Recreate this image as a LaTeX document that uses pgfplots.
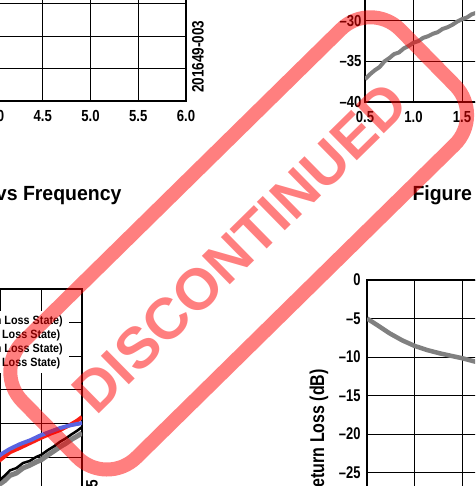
\documentclass[border=0pt]{standalone}
\usepackage{fontspec}
\setmainfont{Liberation Sans}
\newfontfamily\tickA{Liberation Sans}[FakeStretch=0.82]
\newfontfamily\tickD{Liberation Sans}[FakeStretch=0.76]
\newfontfamily\titlef{Liberation Sans}[FakeStretch=0.95]
\newfontfamily\labf{Liberation Sans}[FakeStretch=0.8]
\newfontfamily\legf{Liberation Sans}[FakeStretch=0.9]
\newfontfamily\stampf{Liberation Sans}
\usepackage{pgfplots}
\pgfplotsset{compat=1.18}
\definecolor{cgray}{RGB}{128,128,128}
\definecolor{cred}{RGB}{250,30,20}
\definecolor{cblue}{RGB}{90,100,225}
\definecolor{stampred}{RGB}{255,0,0}
\pgfplotsset{
  dsaxis/.style={
    scale only axis,
    axis line style={line width=2pt},
    grid=major,
    major grid style={line width=0.9pt, black},
    major tick length=0pt,
    /pgf/number format/assume math mode=true,
    xtick={0.5,1,1.5,2,2.5,3,3.5,4,4.5,5,5.5,6},
    xticklabels={0.5,1.0,1.5,2.0,2.5,3.0,3.5,4.0,4.5,5.0,5.5,6.0},
    xmin=0.5, xmax=6,
  }
}
\begin{document}
\begin{tikzpicture}
\begin{scope}
\clip (0pt,0pt) rectangle (475pt,486pt);
% ---------- Axis A (top left) ----------
\begin{axis}[dsaxis, at={(186pt,385pt)}, anchor=south east,
  width=525pt, height=259.2pt, ymin=0, ymax=8, ytick={0,1,...,8},
  yticklabels={},
  tick label style={font=\tickA\bfseries\fontsize{16}{18}\selectfont},
  xticklabel style={yshift=-6pt}]
\addplot[draw=none] coordinates {(0.5,0) (6,0)};
\end{axis}
\node[rotate=90, anchor=west, inner sep=0pt, font=\tickA\bfseries\fontsize{16.5}{18}\selectfont] at (198pt,393pt) {201649-003};
% ---------- Axis B (top right) ----------
\begin{axis}[dsaxis, at={(365pt,384pt)}, anchor=south west,
  width=533.5pt, height=324.8pt, ymin=-40, ymax=0,
  ytick={-40,-35,-30,-25,-20,-15,-10,-5,0},
  yticklabels={–40,–35,–30,–25,–20,–15,–10,–5,0},
  tick label style={font=\tickA\bfseries\fontsize{16}{18}\selectfont},
  xticklabel style={yshift=-6pt}]
\addplot[cgray, line width=4pt] coordinates {
(0.5,-37.2) (0.55,-36.6) (0.6,-36.1) (0.65,-35.7) (0.7,-35.0) (0.75,-34.6)
(0.8,-34.1) (0.85,-33.9) (0.9,-33.4) (0.95,-33.1) (1.0,-32.7) (1.05,-32.5)
(1.1,-32.1) (1.15,-31.9) (1.2,-31.6) (1.25,-31.4) (1.3,-31.0) (1.35,-30.8)
(1.4,-30.5) (1.45,-30.1) (1.5,-29.8) (1.55,-29.6) (1.6,-29.2) (1.65,-29.0) (1.7,-28.7)};
\end{axis}
% ---------- titles ----------
\node[anchor=base east, inner sep=0pt, font=\titlef\bfseries\fontsize{20.5}{22}\selectfont] at (121.7pt,285.5pt) {Figure 3. Insertion Loss vs Frequency};
\node[anchor=base west, inner sep=0pt, font=\titlef\bfseries\fontsize{20.5}{22}\selectfont] at (412.3pt,285.5pt) {Figure 4. Input Return Loss vs Frequency};
% ---------- Axis C (bottom left) ----------
\begin{axis}[dsaxis, at={(82pt,197pt)}, anchor=north east,
  width=451pt, height=268.8pt, ymin=-8, ymax=0, ytick={-8,-7,...,0},
  yticklabels={–8,–7,–6,–5,–4,–3,–2,–1,0},
  tick label style={font=\tickA\bfseries\fontsize{16}{18}\selectfont},
  legend cell align=left,
  legend style={at={(rel axis cs:0.971,0.918)}, anchor=north east, draw=none, fill=white,
    font=\legf\bfseries\fontsize{12}{13}\selectfont,
    nodes={text height=8.5pt, text depth=1.5pt, inner sep=2pt}, row sep=0pt, inner xsep=4pt, inner ysep=3pt}]
\addplot[cgray, line width=5pt] coordinates {
(4.9,-6.05) (5.0,-5.8) (5.06,-5.7) (5.12,-5.55) (5.2,-5.48) (5.28,-5.33) (5.36,-5.25)
(5.44,-5.15) (5.5,-5.09) (5.58,-4.95) (5.66,-4.82) (5.73,-4.70) (5.8,-4.6)
(5.87,-4.48) (5.94,-4.38) (6.0,-4.29)};
\addplot[black, line width=2.5pt] coordinates {
(4.9,-5.95) (5.0,-5.68) (5.06,-5.55) (5.12,-5.40) (5.2,-5.33) (5.28,-5.18) (5.36,-5.12)
(5.44,-5.0) (5.5,-4.94) (5.58,-4.80) (5.66,-4.68) (5.73,-4.55) (5.8,-4.45)
(5.87,-4.33) (5.94,-4.22) (6.0,-4.11)};
\addplot[cred, line width=4pt] coordinates {
(4.9,-5.3) (5.0,-5.09) (5.12,-4.86) (5.24,-4.73) (5.37,-4.58) (5.5,-4.43)
(5.62,-4.30) (5.73,-4.20) (5.85,-4.05) (5.94,-3.92) (6.0,-3.81)};
\addplot[cblue, line width=4pt] coordinates {
(4.9,-5.2) (5.0,-4.94) (5.12,-4.76) (5.24,-4.62) (5.37,-4.50) (5.5,-4.35)
(5.62,-4.24) (5.73,-4.14) (5.85,-4.06) (6.0,-3.99)};
\legend{S21 (High Loss State),S21 (Low Loss State),S12 (High Loss State),S12 (Low Loss State)}
\end{axis}
\node[rotate=90, anchor=east, inner sep=0pt, font=\tickA\bfseries\fontsize{16.5}{18}\selectfont] at (92pt,6pt) {201649-005};
% ---------- Axis D (bottom right) ----------
\begin{axis}[dsaxis, at={(367pt,206pt)}, anchor=north west,
  width=525.8pt, height=308pt, ymin=-40, ymax=0,
  ytick={-40,-35,-30,-25,-20,-15,-10,-5,0},
  yticklabels={–40,–35,–30,–25,–20,–15,–10,–5,0},
  tick label style={font=\tickD\bfseries\fontsize{17}{19}\selectfont},
  yticklabel style={xshift=-3pt},
  ylabel={Return Loss (dB)},
  ylabel style={at={(rel axis cs:0,0.5)}, anchor=south, inner sep=0pt, yshift=38.5pt,
    font=\labf\bfseries\fontsize{20}{22}\selectfont}]
\addplot[cgray, line width=4.5pt] coordinates {
(0.5,-5.0) (0.6,-5.8) (0.74,-6.95) (0.87,-7.85) (1.0,-8.57) (1.13,-9.1)
(1.26,-9.52) (1.38,-9.85) (1.5,-10.17) (1.63,-10.6) (1.75,-10.9)};
\end{axis}
% ---------- watermark ----------
\begin{scope}[shift={(238.7pt,242.6pt)}, rotate=44.5]
\draw[stampred, opacity=0.5, line width=14pt, rounded corners=42pt] (-265pt,-81pt) rectangle (265pt,81pt);
\node[transform shape, text=stampred, opacity=0.5, inner sep=0pt, font=\stampf\bfseries\fontsize{58}{60}\selectfont] at (-2pt,-4pt) {DISCONTINUED};
\end{scope}
\end{scope}
\pgfresetboundingbox
\useasboundingbox (0pt,0pt) rectangle (475pt,486pt);
\end{tikzpicture}
\end{document}
